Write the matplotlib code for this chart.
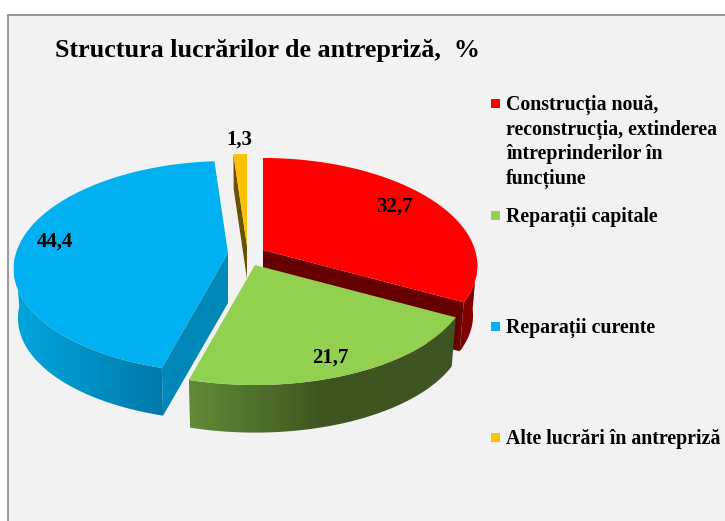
import numpy as np
from matplotlib import pyplot as plt
from matplotlib.colors import LinearSegmentedColormap
from matplotlib.patches import Polygon

plt.rcParams['font.family'] = ['Liberation Serif', 'DejaVu Serif']

TITLE = 'Structura lucrărilor de antrepriză,  %'
LABELS = ['Construcția nouă,\nreconstrucția, extinderea\nîntreprinderilor în\nfuncțiune',
          'Reparații capitale', 'Reparații curente', 'Alte lucrări în antrepriză']
VALUES = [32.7, 21.7, 44.4, 1.3]
VALUE_TEXT = ['32,7', '21,7', '44,4', '1,3']
COLORS = ['#ff0000', '#92d050', '#00b0f0', '#ffc000']

# pie geometry, in pixels of the 725x521 picture
RX = 212
DEPTH = 50
CENTERS = [(263, 250), (255, 265), (228, 253), (247, 246)]
LABEL_POS = [(394, 207), (330, 358), (55, 242), (239, 140)]
LEGEND_Y = [142, 217, 328, 439]
MARKER_Y = [103, 215, 326, 437]


def project(cx, cy, theta, r=1.0):
    # theta in degrees, clockwise from the top, with a bit of perspective
    t = np.radians(theta)
    s, c = np.sin(t), np.cos(t)
    return cx + r * RX * s * (1 - 0.15 * c), cy - r * c * (106 - 14 * c)


def top_face(center, a, b, color, z):
    th = np.linspace(a, b, 80)
    x, y = project(center[0], center[1], th)
    ax.fill(np.r_[center[0], x], np.r_[center[1], y], color=color, lw=0, zorder=z)


def outer_wall(center, a, b, cols, z):
    # gradient image clipped to the wall outline
    th = np.linspace(a, b, 120)
    x, y = project(center[0], center[1], th)
    xb, yb = project(center[0], center[1] + DEPTH, th, 0.98)
    px = np.r_[x, xb[::-1]]
    py = np.r_[y, yb[::-1]]
    poly = Polygon(np.c_[px, py], closed=True, fc='none', lw=0)
    ax.add_patch(poly)
    cmap = LinearSegmentedColormap.from_list('wall', cols)
    im = ax.imshow(np.linspace(0, 1, 256)[None, :], cmap=cmap, aspect='auto',
                   extent=[px.min(), px.max(), py.max(), py.min()], zorder=z)
    im.set_clip_path(poly)


def inner_wall(center, theta, color, z, depth=DEPTH):
    x, y = project(center[0], center[1], theta)
    xb, yb = project(center[0], center[1] + depth, theta, 0.98)
    ax.fill([center[0], x, xb, center[0]],
            [center[1], y, yb, center[1] + depth], color=color, lw=0, zorder=z)


fig = plt.figure(figsize=(7.25, 5.21), dpi=100)
ax = fig.add_axes([0, 0, 1, 1])
ax.axis('off')

ax.add_patch(plt.Rectangle((8.5, 14.5), 730, 520, fc='#f2f2f2', ec='#868686', lw=1.2, zorder=0))

edges = np.r_[0, np.cumsum(VALUES)] * 3.6
red, green, blue, yellow = CENTERS

# small yellow slice
inner_wall(yellow, edges[3], '#6b5000', 1, depth=33)
top_face(yellow, edges[3], 360, COLORS[3], 1.1)

# blue slice
outer_wall(blue, 268, edges[2], ['#00a6de', '#0090c4', '#0079a8'], 2)
inner_wall(blue, edges[2], '#0088b8', 2.1)
top_face(blue, edges[2], edges[3], COLORS[2], 2.2)

# red slice
outer_wall(red, 95, edges[1], ['#800000', '#800000'], 3)
inner_wall(red, edges[1], '#660000', 3.1)
top_face(red, edges[0], edges[1], COLORS[0], 3.2)

# green slice
outer_wall(green, edges[2], edges[1], ['#628b38', '#3e5520', '#3e5522'], 4)
top_face(green, edges[1], edges[2], COLORS[1], 4.1)

for (x, y), txt in zip(LABEL_POS, VALUE_TEXT):
    ax.text(x, y, txt, ha='center', va='center', fontsize=15, fontweight='bold', zorder=5)

ax.text(55, 51, TITLE, ha='left', va='center', fontsize=18.8, fontweight='bold', zorder=5)

for i, label in enumerate(LABELS):
    ax.text(506, LEGEND_Y[i], label, ha='left', va='center', fontsize=14.3, fontweight='bold',
            linespacing=1.31, zorder=5)
    ax.add_patch(plt.Rectangle((491, MARKER_Y[i] - 4.5), 9, 9, fc=COLORS[i], lw=0, zorder=5))

ax.set_xlim(0, 725)
ax.set_ylim(521, 0)

fig.savefig('out.png', dpi=100)
